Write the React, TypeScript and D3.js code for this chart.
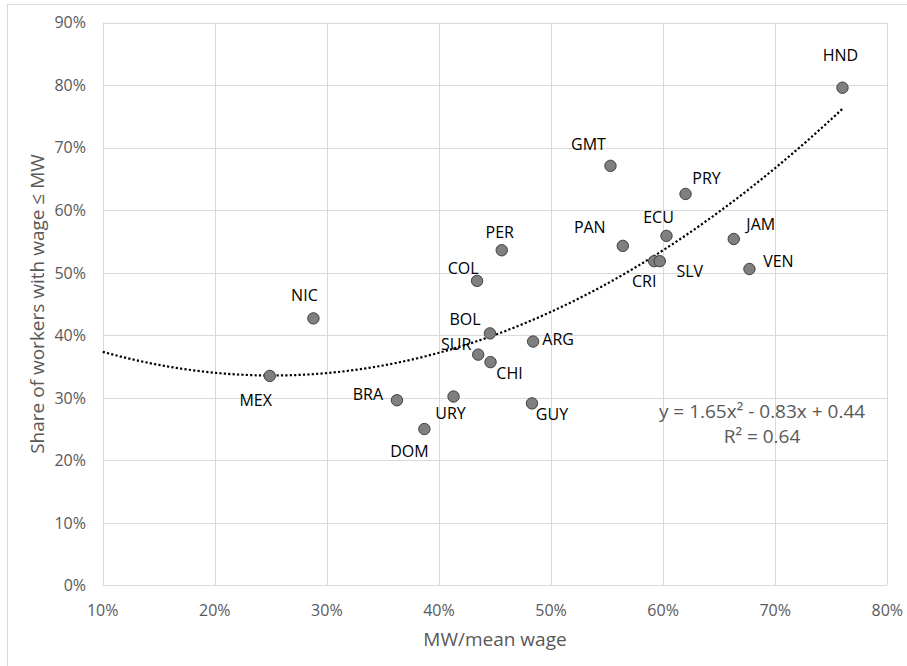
import React from 'react';
import * as d3 from 'd3';

// country codes and values
const countries = ['HND', 'GMT', 'PRY', 'ECU', 'PAN', 'JAM', 'CRI', 'SLV', 'VEN', 'PER', 'COL',
  'NIC', 'BOL', 'ARG', 'SUR', 'CHI', 'MEX', 'BRA', 'URY', 'GUY', 'DOM'];
const mwToMean = [0.760, 0.553, 0.620, 0.603, 0.564, 0.663, 0.592, 0.597, 0.677, 0.456, 0.434,
  0.288, 0.4455, 0.484, 0.435, 0.446, 0.249, 0.3625, 0.413, 0.483, 0.387];
const shareBelowMW = [0.796, 0.671, 0.626, 0.559, 0.543, 0.554, 0.5185, 0.5185, 0.506, 0.536, 0.487,
  0.427, 0.403, 0.390, 0.369, 0.357, 0.335, 0.296, 0.302, 0.291, 0.250];

// trendline as printed on the chart: y = 1.65x² - 0.83x + 0.44
const trendCoef = [1.65, -0.83, 0.44];
const trendRange = [0.1, 0.76];

const xTicks = [0.1, 0.2, 0.3, 0.4, 0.5, 0.6, 0.7, 0.8];
const yTicks = [0, 0.1, 0.2, 0.3, 0.4, 0.5, 0.6, 0.7, 0.8, 0.9];

// label placement relative to the marker centre (px)
const labelOffset: Record<string, [number, number]> = {
  HND: [-2, -32], GMT: [-22, -22], PRY: [21, -16], ECU: [-8, -19], PAN: [-33, -19],
  JAM: [27, -15], CRI: [-10, 20], SLV: [30, 10], VEN: [29, -8], PER: [-2, -18],
  COL: [-14, -13], NIC: [-9, -23], BOL: [-25, -14], ARG: [25, -2], SUR: [-22, -10],
  CHI: [19, 11], MEX: [-14, 24], BRA: [-29, -6], URY: [-3, 17], GUY: [20, 11], DOM: [-15, 22],
};

const W = 907;
const H = 666;
const left = 102.7, right = 887.3, top = 22.7, bottom = 585.3;
const font = '"Open Sans", "Noto Sans", sans-serif';
const grey = '#595959';

export default function App() {
  const x = d3.scaleLinear().domain([0.1, 0.8]).range([left, right]);
  const y = d3.scaleLinear().domain([0, 0.9]).range([bottom, top]);
  const pct = d3.format('.0%');

  const [a, b, c] = trendCoef;
  const trendPts = d3.range(trendRange[0], trendRange[1] + 1e-9, 0.005)
    .map(v => [v, a * v * v + b * v + c] as [number, number]);
  const trendPath = d3.line<[number, number]>()
    .x(d => x(d[0]))
    .y(d => y(d[1]))(trendPts) || '';

  return (
    <svg width={W} height={H} style={{ position: 'absolute', left: 0, top: 0, background: '#fff' }}
      fontFamily={font}>
      <rect x={7.5} y={4.5} width={W + 20} height={H + 20} fill="#fff" stroke="#d9d9d9" />

      {/* gridlines */}
      {yTicks.map(t => (
        <line key={'gy' + t} x1={left} x2={right} y1={Math.round(y(t)) + 0.5} y2={Math.round(y(t)) + 0.5}
          stroke="#d9d9d9" strokeWidth={1} />
      ))}
      {xTicks.map(t => (
        <line key={'gx' + t} y1={top} y2={bottom} x1={Math.round(x(t)) + 0.5} x2={Math.round(x(t)) + 0.5}
          stroke="#d9d9d9" strokeWidth={1} />
      ))}

      {/* tick labels */}
      {yTicks.map(t => (
        <text key={'ty' + t} x={86} y={y(t)} dy="0.36em" textAnchor="end" fontSize={16} fill={grey}>
          {pct(t)}
        </text>
      ))}
      {xTicks.map(t => (
        <text key={'tx' + t} x={x(t)} y={610} dy="0.36em" textAnchor="middle" fontSize={16} fill={grey}>
          {pct(t)}
        </text>
      ))}

      {/* axis titles */}
      <text x={(left + right) / 2} y={639} dy="0.36em" textAnchor="middle" fontSize={19} fill={grey}>
        MW/mean wage
      </text>
      <text transform={`translate(37,${(top + bottom) / 2}) rotate(-90)`} dy="0.36em" textAnchor="middle"
        fontSize={19} fill={grey}>
        Share of workers with wage ≤ MW
      </text>

      {/* trendline */}
      <path d={trendPath} fill="none" stroke="#000" strokeWidth={2.2} strokeDasharray="2.2 2.2" />

      {/* points */}
      {countries.map((k, i) => (
        <circle key={'p' + k} cx={x(mwToMean[i])} cy={y(shareBelowMW[i])} r={5.7}
          fill="#7f7f7f" stroke="#404040" strokeWidth={1} />
      ))}
      {countries.map((k, i) => (
        <text key={'l' + k} x={x(mwToMean[i]) + labelOffset[k][0]} y={y(shareBelowMW[i]) + labelOffset[k][1]}
          dy="0.36em" textAnchor="middle" fontSize={16} fill="#000">
          {k}
        </text>
      ))}

      {/* equation */}
      <text x={762} y={410.7} dy="0.36em" textAnchor="middle" fontSize={19} fill={grey}>
        y = 1.65x² - 0.83x + 0.44
      </text>
      <text x={762} y={436} dy="0.36em" textAnchor="middle" fontSize={19} fill={grey}>
        R² = 0.64
      </text>
    </svg>
  );
}
